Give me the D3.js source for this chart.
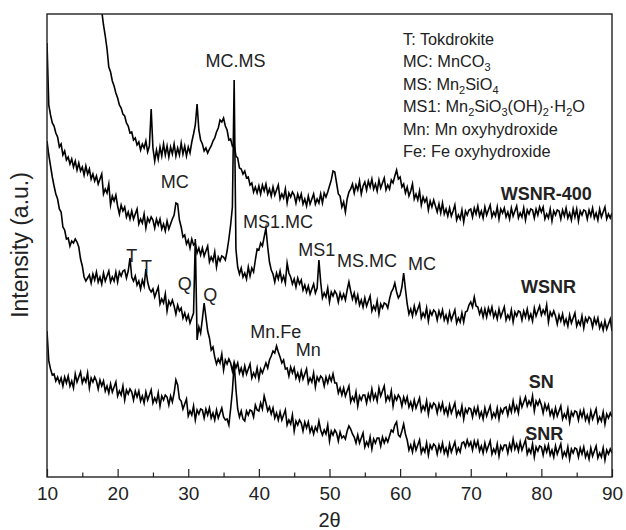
<!DOCTYPE html>
<html>
<head>
<meta charset="utf-8">
<script src="https://d3js.org/d3.v7.min.js"></script>
<style>
    body { margin: 0; background: #fff; }
    svg { display: block; font-family: "Liberation Sans", Arial, sans-serif; }
</style>
</head>
<body>
<div id="chart"></div>
<script>
// 2-theta scan grid (degrees), one reading every 0.25 deg
var twoTheta = d3.range(10, 90.001, 0.25);

// intensity readings (a.u.), 20 values per row = 5 degrees
var wsnr400 = [
    null,null,null,null, null,null,null,null, null,null,null,null, null,null,null,null, null,null,null,null,
    null,null,null,null, null,null,null,null, null,null,492,466, 452,441,428,410, 405,396,391,384,
    379,372,369,363, 361,354,351,344, 345,337,339,332, 335,327,333,329, 336,325,331,368,
    329,316,327,318, 330,321,333,322, 331,320,330,323, 333,321,329,322, 334,323,331,321,
    330,324,335,343, 352,373,347,337, 333,326,329,324, 328,331,336,339, 345,349,357,355,
    359,351,347,337, 338,331,333,321, 319,309,308,303, 306,299,300,292, 294,285,290,284,
    291,283,292,286, 293,283,288,281, 290,282,287,292, 278,283,279,288, 274,284,280,285,
    282,274,283,277, 283,273,278,271, 281,273,278,283, 273,278,274,283, 274,284,280,285,
    291,297,306,305, 294,283,281,270, 275,265,278,285, 288,293,284,292, 287,296,283,291,
    295,287,296,290, 298,288,293,286, 297,289,294,299, 287,292,288,297, 294,301,307,298,
    300,290,293,284, 290,281,286,293, 278,283,277,286, 272,280,275,279, 267,276,270,277,
    271,265,273,264, 274,263,268,261, 269,261,266,272, 257,262,258,267, 255,266,262,267,
    268,260,269,263, 271,261,266,259, 270,262,267,272, 260,265,261,270, 258,268,264,269,
    260,265,258,269, 261,266,271,259, 264,260,269,257, 267,263,268,267, 259,268,262,270,
    265,270,258,263, 259,268,256,266, 262,267,266,258, 267,261,269,259, 264,257,268,260,
    268,256,266,262, 267,266,258,267, 261,269,259,264, 257,268,260,265, 270,258,263,259,
    264
];

var wsnr = [
    434,372,362,354, 351,344,340,330, 333,322,326,317, 320,313,318,310, 316,307,314,306,
    310,302,311,303, 308,298,303,296, 301,293,298,303, 283,288,284,293, 272,281,276,282,
    271,263,272,266, 270,260,265,258, 266,258,263,268, 253,258,254,263, 249,259,255,260,
    257,249,258,252, 258,248,253,246, 256,248,253,258, 262,274,273,257, 250,240,242,233,
    237,229,238,232, 234,224,229,222, 229,221,226,231, 215,220,216,225, 210,220,216,221,
    220,217,226,238, 252,270,397,228, 210,203,209,200, 204,198,210,201, 209,205,217,228,
    227,234,231,240, 249,230,215,207, 203,195,204,198, 206,196,201,194, 214,204,200,193,
    198,190,199,193, 197,187,192,185, 191,183,188,193, 184,189,217,195, 179,184,180,189,
    175,185,181,186, 183,175,184,178, 183,177,187,195, 186,178,184,175, 182,172,177,170,
    179,171,176,181, 166,171,167,176, 163,173,169,174, 173,169,178,185, 188,194,185,179,
    182,190,204,188, 173,163,168,161, 171,163,168,173, 159,164,160,169, 156,166,162,167,
    165,157,166,160, 167,157,162,155, 165,157,162,167, 154,159,155,164, 155,165,166,172,
    175,170,180,171, 170,163,168,160, 168,160,169,163, 170,160,165,158, 168,160,165,170,
    157,162,158,167, 155,165,161,166, 165,157,166,160, 168,158,163,156, 169,161,166,171,
    162,167,163,172, 155,165,161,166, 161,153,162,156, 163,153,158,151, 162,154,159,164,
    151,156,152,161, 149,159,155,160, 158,150,159,153, 159,149,154,147, 156,148,153,158,
    146
];

var sn = [
    336,322,311,300, 291,283,278,268, 265,250,247,238, 239,231,236,234, 238,235,230,218,
    211,200,196,199, 202,194,203,197, 205,195,200,193, 204,196,201,206, 195,200,196,205,
    195,205,201,206, 207,199,206,219, 200,196,201,192, 196,188,197,191, 208,195,188,185,
    188,180,185,190, 173,178,174,183, 166,176,172,177, 171,163,172,166, 169,159,164,157,
    162,154,159,164, 238,137,150,144, 158,174,160,146, 139,127,130,120, 113,118,114,123,
    107,117,113,118, 114,106,115,109, 114,104,109,102, 111,103,108,113, 99,104,100,109,
    98,108,104,109, 114,109,117,121, 126,124,131,125, 120,114,117,108, 109,101,110,104,
    109,99,104,97, 106,98,103,108, 94,99,95,104, 90,100,96,101, 99,91,100,94,
    101,96,103,94, 94,84,89,82, 89,81,86,91, 75,80,76,85, 71,81,77,82,
    82,74,83,77, 88,78,83,76, 89,81,86,91, 76,81,77,86, 71,81,77,82,
    79,71,80,74, 80,70,75,68, 77,69,74,79, 66,71,67,76, 63,73,69,74,
    72,64,73,67, 74,64,69,62, 72,64,69,74, 61,66,62,71, 58,68,64,69,
    68,60,69,63, 70,60,65,58, 69,61,66,71, 59,64,60,69, 58,68,64,69,
    70,62,71,65, 76,66,71,64, 78,70,75,80, 71,76,72,81, 66,76,72,77,
    72,64,73,67, 72,62,67,60, 69,61,66,71, 58,63,59,68, 55,65,61,66,
    65,57,66,60, 67,57,62,55, 66,58,63,68, 55,60,56,65, 53,63,59,64,
    60
];

var snr = [
    146,116,108,102, 103,96,100,94, 99,91,100,94, 101,91,96,89, 103,95,100,105,
    94,99,95,104, 89,99,95,100, 96,88,97,91, 96,86,91,84, 93,85,90,95,
    81,86,82,91, 77,87,83,88, 85,77,86,80, 86,76,81,74, 85,77,82,87,
    74,79,75,84, 71,81,77,82, 80,72,81,75, 84,97,92,78, 76,68,73,78,
    61,66,62,71, 57,67,63,68, 67,59,68,62, 69,59,64,57, 67,59,64,69,
    60,57,58,52, 68,86,114,88, 68,60,66,58, 56,66,62,67, 66,60,72,67,
    66,74,68,81, 74,66,70,63, 69,59,64,57, 65,57,62,67, 52,57,53,62,
    46,56,52,57, 54,46,55,49, 55,45,50,43, 50,46,56,47, 42,47,43,52,
    36,46,42,47, 44,36,45,39, 41,38,46,51, 48,43,40,34, 42,34,39,44,
    30,35,31,40, 28,38,34,39, 39,31,40,34, 39,35,41,47, 45,52,55,42,
    40,46,53,43, 37,27,32,25, 35,27,32,37, 24,29,25,34, 22,32,28,33,
    31,23,32,26, 34,24,29,22, 33,25,30,35, 24,29,25,34, 35,30,37,31,
    35,27,36,30, 36,26,31,24, 34,26,31,36, 23,28,24,33, 21,31,27,32,
    32,24,33,27, 38,28,33,26, 35,27,32,37, 23,28,24,33, 20,30,26,31,
    30,22,31,25, 32,22,27,20, 31,23,28,33, 20,25,21,30, 18,28,24,29,
    28,20,29,23, 30,20,25,18, 29,21,26,31, 19,24,20,29, 17,27,23,28,
    24
];

var sampleNames = ["WSNR-400", "WSNR", "SN", "SNR"];
// where each sample name sits (2theta, intensity)
var sampleLabelAt = [[80.7, 277], [81.0, 184], [80.0, 89], [80.4, 37]];

// phase marks over the peaks
var peakText = ["MC.MS", "MC", "MS1.MC", "MS1", "MS.MC", "MC", "T", "T", "Q", "Q", "Mn.Fe", "Mn"];
var peakTheta = [36.7, 28.1, 42.7, 48.2, 55.3, 63.1, 22.0, 24.1, 29.5, 33.1, 42.4, 47.0];
var peakLevel = [410, 289, 249, 221, 210, 207, 215, 204, 187, 176, 139, 121];

// key, "_n" means subscript n
var legendLines = [
    "T: Tokdrokite",
    "MC: MnCO_3",
    "MS: Mn_2SiO_4",
    "MS1: Mn_2SiO_3(OH)_2\u00B7H_2O",
    "Mn: Mn oxyhydroxide",
    "Fe: Fe oxyhydroxide"
];

var xTicks = [10, 20, 30, 40, 50, 60, 70, 80, 90];
var xMinorTicks = [15, 25, 35, 45, 55, 65, 75, 85];

function init() {

    var w = 626;
    var h = 530;
    var left = 47, top = 14, right = 612, bottom = 477;

    var svg = d3.select("#chart")
                .append("svg")
                .attr("width", w)
                .attr("height", h);

    var x = d3.scaleLinear().domain([10, 90]).range([left, right]);
    var y = d3.scaleLinear().domain([0, 463]).range([bottom, top]);

    svg.append("clipPath")
        .attr("id", "plotclip")
        .append("rect")
        .attr("x", left).attr("y", top)
        .attr("width", right - left).attr("height", bottom - top);

    var series = [wsnr400, wsnr, sn, snr].map(function(vals) {
        return vals.map(function(v, i) { return { t: twoTheta[i], v: v }; });
    });

    var line = d3.line()
                .defined(function(d) { return d.v != null; })
                .x(function(d) { return x(d.t); })
                .y(function(d) { return y(d.v); });

    // scans drawn heavy with sharp joins so the noise reads as a spiky band
    svg.append("g")
        .attr("clip-path", "url(#plotclip)")
        .selectAll("path")
        .data(series)
        .enter()
        .append("path")
        .attr("d", line)
        .style("fill", "none")
        .style("stroke", "#000")
        .style("stroke-width", 1.6)
        .style("stroke-linejoin", "miter")
        .style("stroke-miterlimit", 8);

    // bottom axis, ticks pointing in
    var axis = svg.append("g")
        .attr("transform", "translate(0," + bottom + ")")
        .call(d3.axisBottom(x).tickValues(xTicks).tickSizeInner(-8).tickSizeOuter(0).tickPadding(9.5));
    axis.select(".domain").remove();
    axis.selectAll("line").style("stroke", "#222").style("stroke-width", 1.2);
    axis.selectAll("text").style("font-size", "19px").style("fill", "#222");

    var minor = svg.append("g")
        .attr("transform", "translate(0," + bottom + ")")
        .call(d3.axisBottom(x).tickValues(xMinorTicks).tickSizeInner(-4.5).tickSizeOuter(0).tickFormat(""));
    minor.select(".domain").remove();
    minor.selectAll("line").style("stroke", "#222").style("stroke-width", 1.2);

    // frame
    svg.append("rect")
        .attr("x", left).attr("y", top)
        .attr("width", right - left).attr("height", bottom - top)
        .style("fill", "none")
        .style("stroke", "#222")
        .style("stroke-width", 1.4);

    // axis titles
    svg.append("text")
        .attr("x", (left + right) / 2)
        .attr("y", 527)
        .attr("text-anchor", "middle")
        .style("font-size", "20px")
        .style("fill", "#222")
        .text("2\u03B8");

    svg.append("text")
        .attr("transform", "translate(28,245) rotate(-90)")
        .attr("text-anchor", "middle")
        .style("font-size", "23px")
        .style("fill", "#222")
        .text("Intensity (a.u.)");

    // peak marks
    svg.selectAll(".peak")
        .data(peakText)
        .enter()
        .append("text")
        .attr("class", "peak")
        .attr("x", function(d, i) { return x(peakTheta[i]); })
        .attr("y", function(d, i) { return y(peakLevel[i]); })
        .attr("text-anchor", "middle")
        .style("font-size", "18px")
        .style("fill", "#222")
        .text(function(d) { return d; });

    // sample names
    svg.selectAll(".sample")
        .data(sampleNames)
        .enter()
        .append("text")
        .attr("class", "sample")
        .attr("x", function(d, i) { return x(sampleLabelAt[i][0]); })
        .attr("y", function(d, i) { return y(sampleLabelAt[i][1]); })
        .attr("text-anchor", "middle")
        .style("font-size", "18px")
        .style("font-weight", "bold")
        .style("fill", "#222")
        .text(function(d) { return d; });

    // key with subscripts
    var key = svg.append("g").style("font-size", "16.3px").style("fill", "#222");
    legendLines.forEach(function(str, i) {
        var t = key.append("text")
            .attr("x", 403)
            .attr("y", 45 + i * 22.4);
        var parts = str.split(/_(\d)/);
        var lowered = false;
        parts.forEach(function(p, j) {
            if (p === "") return;
            var span = t.append("tspan").text(p);
            if (j % 2 === 1) {
                span.attr("dy", 4).style("font-size", "11px");
                lowered = true;
            } else if (lowered) {
                span.attr("dy", -4);
                lowered = false;
            }
        });
    });
}

window.onload = init;
</script>
</body>
</html>
